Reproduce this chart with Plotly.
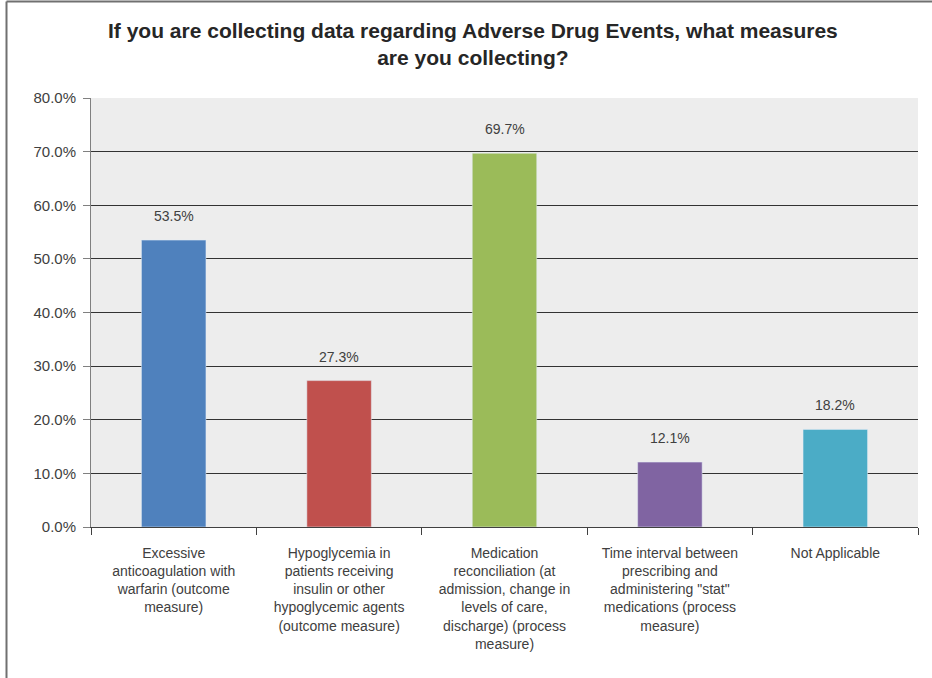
import plotly.graph_objects as go

categories = [
    "Excessive<br>anticoagulation with<br>warfarin (outcome<br>measure)",
    "Hypoglycemia in<br>patients receiving<br>insulin or other<br>hypoglycemic agents<br>(outcome measure)",
    "Medication<br>reconciliation (at<br>admission, change in<br>levels of care,<br>discharge) (process<br>measure)",
    "Time interval between<br>prescribing and<br>administering \"stat\"<br>medications (process<br>measure)",
    "Not Applicable",
]
values = [53.5, 27.3, 69.7, 12.1, 18.2]
labels = ["53.5%", "27.3%", "69.7%", "12.1%", "18.2%"]
colors = ["#4F81BD", "#C0504D", "#9BBB59", "#8064A2", "#4BACC6"]
ytick_vals = [0, 10, 20, 30, 40, 50, 60, 70, 80]
ytick_text = ["0.0%", "10.0%", "20.0%", "30.0%", "40.0%", "50.0%", "60.0%", "70.0%", "80.0%"]
title_text = "<b>If you are collecting data regarding Adverse Drug Events, what measures<br>are you collecting?</b>"

W, H = 932, 678
ml, mr, mt, mb = 91, 14, 98, 151
pw, ph = W - ml - mr, H - mt - mb

def px_x(p):
    return (p - ml) / pw

def px_y(p):
    return 1 - (p - mt) / ph

font_fam = "Liberation Sans Narrow, Arial Narrow, Liberation Sans, Arial, sans-serif"

fig = go.Figure(go.Bar(
    x=categories, y=values, marker_color=colors, width=0.39,
))

for c, v, t in zip(categories, values, labels):
    fig.add_annotation(x=c, y=v, xref="x", yref="y", text=t, showarrow=False,
                       yanchor="bottom", yshift=14,
                       font=dict(family=font_fam, size=14, color="#404040"))

fig.add_annotation(x=px_x(473), y=px_y(44), xref="paper", yref="paper",
                   text=title_text, showarrow=False, xanchor="center", yanchor="middle",
                   font=dict(family=font_fam, size=21, color="#262626"))

fig.update_layout(
    width=W, height=H,
    margin=dict(l=ml, r=mr, t=mt, b=mb),
    paper_bgcolor="white", plot_bgcolor="#EDEDED",
    showlegend=False,
    font=dict(family=font_fam, color="#404040"),
)

fig.update_yaxes(
    range=[0, 80], tickvals=ytick_vals, ticktext=ytick_text,
    showgrid=True, gridcolor="#333333", gridwidth=1,
    ticks="outside", ticklen=7, tickcolor="#808080",
    showline=True, linecolor="#808080", linewidth=1,
    tickfont=dict(family=font_fam, size=15, color="#404040"),
    zeroline=False, ticklabelstandoff=4,
)
fig.update_xaxes(
    tickson="boundaries", ticks="outside", ticklen=7, tickcolor="#404040",
    showline=True, linecolor="#404040", linewidth=1,
    tickfont=dict(family=font_fam, size=14, color="#404040"),
    tickangle=0, ticklabelstandoff=13,
)

# frame lines (left and top)
fig.add_shape(type="line", xref="paper", yref="paper",
              x0=px_x(6.5), x1=px_x(6.5), y0=px_y(1.5), y1=px_y(680),
              line=dict(color="#707070", width=2))
fig.add_shape(type="line", xref="paper", yref="paper",
              x0=px_x(6.5), x1=px_x(934), y0=px_y(1.5), y1=px_y(1.5),
              line=dict(color="#707070", width=2))

fig.write_html("out.html")
